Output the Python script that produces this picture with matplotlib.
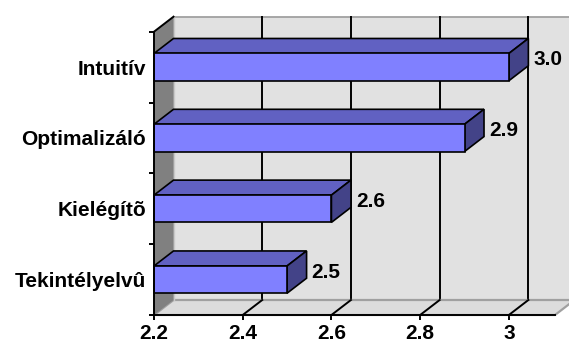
import matplotlib
matplotlib.use("Agg")
import matplotlib.pyplot as plt
from matplotlib.patches import Polygon, Rectangle

# Chart data
categories = ["Tekintélyelvû", "Kielégítõ", "Optimalizáló", "Intuitív"]
values = [2.5, 2.6, 2.9, 3.0]
x_ticks = [2.2, 2.4, 2.6, 2.8, 3.0]
x_tick_labels = ["2.2", "2.4", "2.6", "2.8", "3"]

plt.rcParams["font.family"] = ["Liberation Sans", "DejaVu Sans"]
plt.rcParams["font.weight"] = "bold"

W, H, DPI = 569, 345, 100
fig = plt.figure(figsize=(W / DPI, H / DPI), dpi=DPI)
ax = fig.add_axes([154 / W, 30 / H, 401 / W, 283.3 / H])

X0, X1 = 2.2, 3.104
ax.set_xlim(X0, X1)
ax.set_ylim(0, len(categories))
ax.patch.set_visible(False)

# oblique depth of the 3-D look, converted from pixels to data units
DEPTH_PX = (19.5, 15.0)
ddx = DEPTH_PX[0] * (X1 - X0) / ax.bbox.width
ddy = DEPTH_PX[1] * len(categories) / ax.bbox.height
NY = len(categories)
BAR_H = 0.385

# back wall
ax.add_patch(Polygon([(X0 + ddx, ddy), (X1 + ddx, ddy), (X1 + ddx, NY + ddy), (X0 + ddx, NY + ddy)],
                     closed=True, fc="#E1E1E1", ec="#A0A0A0", lw=1.3, clip_on=False, zorder=1))
# gridlines on the back wall
for t in x_ticks[1:]:
    ax.plot([t + ddx, t + ddx], [ddy, NY + ddy], color="black", lw=1.4, clip_on=False, zorder=2)

# floor
ax.add_patch(Polygon([(X0, 0), (X1, 0), (X1 + ddx, ddy), (X0 + ddx, ddy)],
                     closed=True, fc="#DCDCDC", ec="#A0A0A0", lw=1.6, clip_on=False, zorder=3))
for t in x_ticks[1:]:
    ax.plot([t, t + ddx], [0, ddy], color="black", lw=1.4, clip_on=False, zorder=4)

# left side wall
ax.add_patch(Polygon([(X0, 0), (X0 + ddx, ddy), (X0 + ddx, NY + ddy), (X0, NY)],
                     closed=True, fc="#808080", ec="none", clip_on=False, zorder=5))
ax.plot([X0 + ddx, X0 + ddx], [ddy, NY + ddy], color="#C8C8C8", lw=1.0, clip_on=False, zorder=5)
ax.plot([X0, X0 + ddx], [NY, NY + ddy], color="black", lw=1.4, clip_on=False, zorder=6)

# bars
for i, (cat, v) in enumerate(zip(categories, values)):
    yc = i + 0.5
    y0, y1 = yc - BAR_H / 2, yc + BAR_H / 2
    ax.add_patch(Polygon([(X0, y1), (v, y1), (v + ddx, y1 + ddy), (X0 + ddx, y1 + ddy)],
                         closed=True, fc="#6161C2", ec="black", lw=1.2, clip_on=False, zorder=7))
    ax.add_patch(Polygon([(v, y0), (v + ddx, y0 + ddy), (v + ddx, y1 + ddy), (v, y1)],
                         closed=True, fc="#434388", ec="black", lw=1.2, clip_on=False, zorder=7))
    ax.add_patch(Rectangle((X0, y0), v - X0, BAR_H, fc="#8080FF", ec="black", lw=1.2,
                           clip_on=False, zorder=8))
    ax.annotate(f"{v:.1f}", xy=(v + ddx, yc + ddy / 2), xytext=(5, 0), textcoords="offset pixels",
                ha="left", va="center", fontsize=15, fontweight="bold", zorder=9)

# axes
for side in ("top", "right"):
    ax.spines[side].set_visible(False)
for side in ("left", "bottom"):
    ax.spines[side].set_color("black")
    ax.spines[side].set_linewidth(1.4)
    ax.spines[side].set_zorder(10)

ax.set_xticks(x_ticks, x_tick_labels)
ax.tick_params(axis="x", length=3.6, width=1.4, direction="out", pad=3, labelsize=15)
ax.set_yticks(range(NY + 1), [""] * (NY + 1))
ax.tick_params(axis="y", which="major", length=3.6, width=1.4, direction="out")
ax.set_yticks([i + 0.5 for i in range(NY)], categories, minor=True)
ax.tick_params(axis="y", which="minor", length=0, pad=5.8, labelsize=15)
for lab in ax.get_xticklabels() + ax.get_yticklabels(minor=True):
    lab.set_fontweight("bold")

fig.savefig("out.png", dpi=DPI)
